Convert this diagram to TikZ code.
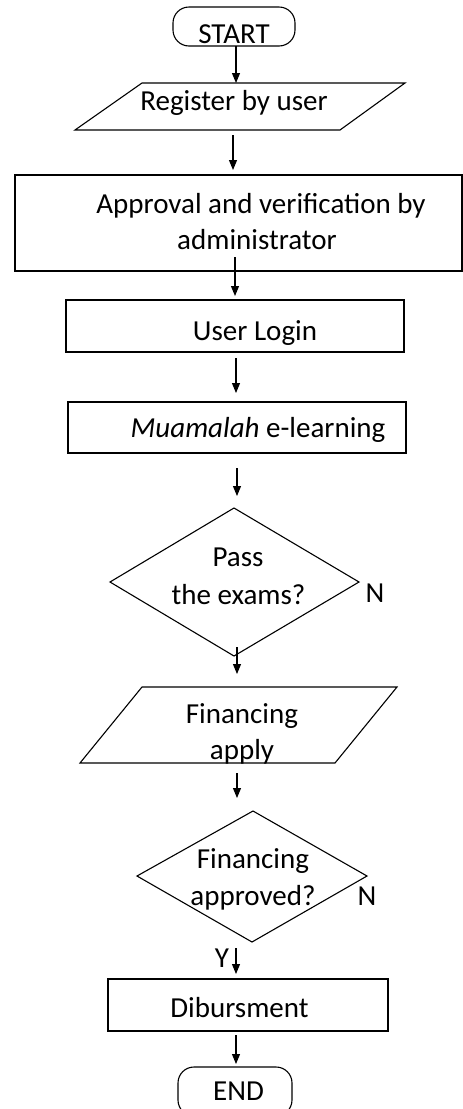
\documentclass[tikz,border=0pt]{standalone}
\usepackage{fontspec}
\setmainfont{Carlito}
\usetikzlibrary{arrows.meta}
\begin{document}
\begin{tikzpicture}[x=1pt,y=-1pt,
  shp/.style={draw,line width=1.1pt},
  txt/.style={font=\fontsize{29}{34}\selectfont,inner sep=0pt,anchor=base},
  arr/.style={-{Triangle[length=10pt,width=8pt]},line width=1.1pt}]
\useasboundingbox (0,0) rectangle (463,1109);
\clip (0,0) rectangle (463,1109);
% START
\draw[shp,rounded corners=16pt] (173,7) rectangle (295,46);
\node[txt] (start) at (234,43) {START};
\coordinate (s1) at (236,46);
\coordinate (r0) at (236,83);
\draw[arr] (s1) -- (r0);
% Register
\draw[shp] (142,83) -- (405,83) -- (340,130) -- (75,130) -- cycle;
\node[txt] (reg) at (234,110) {Register by user};
\coordinate (r1) at (233,135);
\coordinate (a0) at (233,170);
\draw[arr] (r1) -- (a0);
% Approval
\draw[shp] (15,175) rectangle (462,271);
\node[txt] (appr1) at (261,213) {Approval and verification by};
\node[txt] (appr2) at (257,249) {administrator};
\coordinate (a1) at (235,257);
\coordinate (u0) at (235,296);
\draw[arr] (a1) -- (u0);
% User Login
\draw[shp] (66,300) rectangle (404,352);
\node[txt] (login) at (255,340) {User Login};
\coordinate (u1) at (236,358);
\coordinate (m0) at (236,393);
\draw[arr] (u1) -- (m0);
% Muamalah
\draw[shp] (68,402) rectangle (406,453);
\node[txt] (mua) at (258,437) {\textit{Muamalah} e-learning};
\coordinate (m1) at (237,468);
\coordinate (d0) at (237,496);
\draw[arr] (m1) -- (d0);
% Diamond 1
\draw[shp] (234,508) -- (359,582) -- (234,656) -- (110,582) -- cycle;
\node[txt] (pass1) at (238,566) {Pass};
\node[txt] (pass2) at (238.5,604) {the exams?};
\node[txt] (n1) at (375,602) {N};
\coordinate (p1) at (237,647);
\coordinate (f0) at (237,674);
\draw[arr] (p1) -- (f0);
% Financing apply
\draw[shp] (142,687) -- (397,687) -- (335,763) -- (80,763) -- cycle;
\node[txt] (fin1) at (242,723) {Financing};
\node[txt] (fin2) at (242,759) {apply};
\coordinate (f1) at (237,773);
\coordinate (g0) at (237,798);
\draw[arr] (f1) -- (g0);
% Diamond 2
\draw[shp] (253,811) -- (367,876) -- (252,942) -- (137,876) -- cycle;
\node[txt] (fapp1) at (253,868) {Financing};
\node[txt] (fapp2) at (253,905) {approved?};
\node[txt] (n2) at (367,905) {N};
\node[txt] (y) at (222,967) {Y};
\coordinate (g1) at (236,948);
\coordinate (b0) at (236,974);
\draw[arr] (g1) -- (b0);
% Dibursment
\draw[shp] (108,979) rectangle (388,1031);
\node[txt] (dib) at (239.5,1017) {Dibursment};
\coordinate (b1) at (236,1035);
\coordinate (e0) at (236,1064);
\draw[arr] (b1) -- (e0);
% END
\draw[shp,rounded corners=16pt] (178,1067) rectangle (292,1116);
\node[txt] (end) at (238.5,1100) {END};
\end{tikzpicture}
\end{document}
